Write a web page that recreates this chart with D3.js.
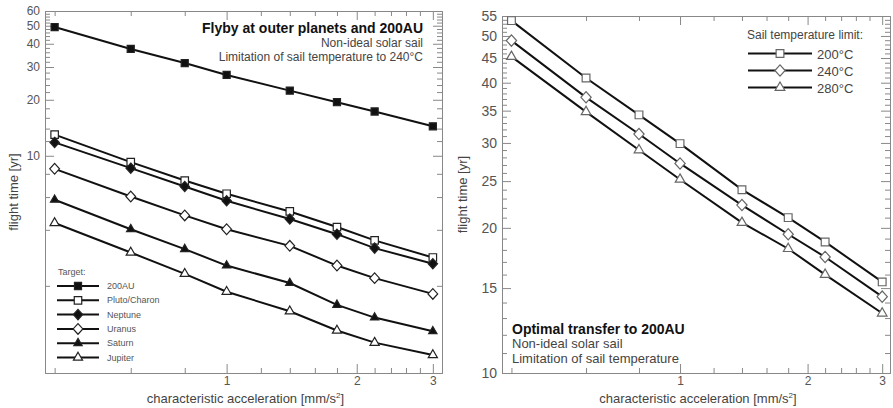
<!DOCTYPE html>
<html>
<head>
<meta charset="utf-8">
<script src="https://cdn.jsdelivr.net/npm/d3@7"></script>
<style>
	body { margin: 0; background: #fff; }
	svg { display: block; font-family: "Liberation Sans", Arial, sans-serif; }
	.axis .domain { stroke: #888; }
	.axis line { stroke: #888; }
	.axis text { fill: #555; font-family: "Liberation Sans", Arial, sans-serif; }
</style>
</head>
<body>
<div id="chart"></div>
<script>
// x values shared by both panels [mm/s^2]
const accel = [0.4, 0.6, 0.8, 1.0, 1.4, 1.8, 2.2, 3.0];

// left panel: flyby times [yr]
const targets = ["200AU", "Pluto/Charon", "Neptune", "Uranus", "Saturn", "Jupiter"];
const t200AU = [49.2, 37.5, 31.5, 27.2, 22.4, 19.4, 17.3, 14.4];
const tPluto = [13.0, 9.25, 7.36, 6.25, 5.02, 4.14, 3.51, 2.84];
const tNeptune = [11.8, 8.58, 6.84, 5.73, 4.57, 3.79, 3.19, 2.63];
const tUranus = [8.51, 6.04, 4.78, 4.03, 3.28, 2.57, 2.2, 1.81];
const tSaturn = [5.8, 4.03, 3.15, 2.57, 2.07, 1.58, 1.35, 1.14];
const tJupiter = [4.35, 3.02, 2.32, 1.86, 1.46, 1.15, 0.99, 0.85];

// right panel: transfer time to 200AU [yr]
const sailTemps = ["200°C", "240°C", "280°C"];
const t200C = [53.8, 40.9, 34.3, 29.9, 24.0, 21.0, 18.7, 15.45];
const t240C = [48.9, 37.3, 31.3, 27.2, 22.3, 19.4, 17.4, 14.4];
const t280C = [45.3, 34.8, 29.0, 25.2, 20.5, 18.1, 16.0, 13.3];

// ticks
const xLabels = [1, 2, 3];
const xMinor = [0.4, 0.6, 0.8, 1.2, 1.4, 1.6, 1.8, 2.2, 2.4, 2.6, 2.8];
const leftYLabels = [10, 20, 30, 40, 50, 60];
const leftYMinor = d3.range(2, 60, 2).filter((v) => v % 10 !== 0);
const rightYLabels = [10, 15, 20, 25, 30, 35, 40, 45, 50, 55];
const rightYMinor = d3.range(11, 55).filter((v) => v % 5 !== 0);

const W = 893, H = 408;
const svg = d3.select("#chart").append("svg").attr("width", W).attr("height", H);

// rotated square, slightly taller than wide
const symbolRhomb = {
	draw(ctx, size) {
		const r = Math.sqrt(size / 2.2);
		ctx.moveTo(0, -r * 1.1);
		ctx.lineTo(r, 0);
		ctx.lineTo(0, r * 1.1);
		ctx.lineTo(-r, 0);
		ctx.closePath();
	},
};

// draws frame with inward ticks on all four sides
function drawFrame(x, y, yLabels, yMinor, opt) {
	const [x0, x1] = x.range();
	const [y0, y1] = y.range(); // y0 bottom
	const g = svg.append("g");

	const ax = (gen, tx, ty, vals, size, labels, fs, pad) => {
		const a = gen.tickValues(vals).tickSizeInner(size).tickSizeOuter(0).tickPadding(pad || 5);
		a.tickFormat(labels ? (d) => d : () => "");
		g.append("g")
			.attr("class", "axis")
			.attr("transform", `translate(${tx},${ty})`)
			.call(a)
			.selectAll("text")
			.style("font-size", fs + "px");
	};

	// bottom / top
	ax(d3.axisBottom(x), 0, y0, xLabels, -9, true, 12, 3);
	ax(d3.axisBottom(x), 0, y0, xMinor, -5, false, 10);
	ax(d3.axisTop(x), 0, y1, xLabels, -9, false, 10);
	ax(d3.axisTop(x), 0, y1, xMinor, -5, false, 10);
	// left / right
	ax(d3.axisLeft(y), x0, 0, yLabels, -9, true, opt.yfs);
	ax(d3.axisLeft(y), x0, 0, yMinor, -5, false, 10);
	ax(d3.axisRight(y), x1, 0, yLabels, -9, false, 10);
	ax(d3.axisRight(y), x1, 0, yMinor, -5, false, 10);

	// axis titles
	g.append("text")
		.attr("x", (x0 + x1) / 2 + 2)
		.attr("y", 403)
		.attr("text-anchor", "middle")
		.attr("fill", "#444")
		.style("font-size", "13px")
		.text("characteristic acceleration [mm/s")
		.append("tspan")
		.attr("dy", -5)
		.style("font-size", "8px")
		.text("2")
		.clone(true)
		.attr("dy", 5)
		.style("font-size", "13px")
		.text("]");

	g.append("text")
		.attr("transform", `translate(${opt.ylabX},${(y0 + y1) / 2}) rotate(-90)`)
		.attr("text-anchor", "middle")
		.attr("fill", "#444")
		.style("font-size", "13px")
		.text("flight time [yr]");
	return g;
}

function drawSeries(x, y, vals, sym, filled, stroke, size) {
	const line = d3.line().x((d, i) => x(accel[i])).y((d) => y(d));
	svg.append("path")
		.datum(vals)
		.attr("d", line)
		.attr("fill", "none")
		.attr("stroke", "#111")
		.attr("stroke-width", 2);
	svg.append("g")
		.selectAll("path")
		.data(vals)
		.join("path")
		.attr("transform", (d, i) => `translate(${x(accel[i])},${y(d)})`)
		.attr("d", d3.symbol(sym, size))
		.attr("fill", filled ? "#111" : "#fff")
		.attr("stroke", stroke)
		.attr("stroke-width", 1.2);
}

// ---------------- left panel ----------------
const xL = d3.scaleLog().domain([0.38, 3.15]).range([45, 442]);
const yL = d3.scaleLog().domain([0.68, 60]).range([373, 11]);
drawFrame(xL, yL, leftYLabels, leftYMinor, { yfs: 12, ylabX: 18 });

const leftSeries = [t200AU, tPluto, tNeptune, tUranus, tSaturn, tJupiter];
const leftSyms = [d3.symbolSquare, d3.symbolSquare, symbolRhomb, symbolRhomb, d3.symbolTriangle, d3.symbolTriangle];
const leftFilled = [true, false, true, false, true, false];
const leftSize = [50, 56, 48, 52, 30, 36];
leftSeries.forEach((s, i) => drawSeries(xL, yL, s, leftSyms[i], leftFilled[i], "#222", leftSize[i]));

svg.append("text")
	.attr("x", 423).attr("y", 33)
	.attr("text-anchor", "end")
	.attr("fill", "#111")
	.style("font-size", "14px").style("font-weight", "bold")
	.text("Flyby at outer planets and 200AU");
svg.append("text")
	.attr("x", 423).attr("y", 47)
	.attr("text-anchor", "end")
	.attr("fill", "#444")
	.style("font-size", "12px")
	.text("Non-ideal solar sail");
svg.append("text")
	.attr("x", 423).attr("y", 61)
	.attr("text-anchor", "end")
	.attr("fill", "#444")
	.style("font-size", "12px")
	.text("Limitation of sail temperature to 240°C");

// left legend
const legL = svg.append("g");
legL.append("text")
	.attr("x", 58).attr("y", 275)
	.attr("fill", "#555")
	.style("font-size", "9px")
	.text("Target:");
targets.forEach((t, i) => {
	const yy = 286 + i * 14.3;
	legL.append("line")
		.attr("x1", 57).attr("x2", 99).attr("y1", yy).attr("y2", yy)
		.attr("stroke", "#111").attr("stroke-width", 2);
	legL.append("path")
		.attr("transform", `translate(78,${yy})`)
		.attr("d", d3.symbol(leftSyms[i], leftSize[i]))
		.attr("fill", leftFilled[i] ? "#111" : "#fff")
		.attr("stroke", "#222").attr("stroke-width", 1.2);
	legL.append("text")
		.attr("x", 107).attr("y", yy + 3)
		.attr("fill", "#555")
		.style("font-size", "9px")
		.text(t);
});

// ---------------- right panel ----------------
const xR = d3.scaleLog().domain([0.38, 3.13]).range([502, 890]);
const yR = d3.scaleLog().domain([10, 55]).range([373, 16]);
drawFrame(xR, yR, rightYLabels, rightYMinor, { yfs: 14, ylabX: 467 });

const rightSeries = [t200C, t240C, t280C];
const rightSyms = [d3.symbolSquare, symbolRhomb, d3.symbolTriangle];
const rightSize = [60, 58, 40];
rightSeries.forEach((s, i) => drawSeries(xR, yR, s, rightSyms[i], false, "#666", rightSize[i]));

const legR = svg.append("g");
legR.append("text")
	.attr("x", 747).attr("y", 39)
	.attr("fill", "#444")
	.style("font-size", "12px")
	.text("Sail temperature limit:");
sailTemps.forEach((t, i) => {
	const yy = 53.5 + i * 17;
	legR.append("line")
		.attr("x1", 748).attr("x2", 812).attr("y1", yy).attr("y2", yy)
		.attr("stroke", "#111").attr("stroke-width", 2);
	legR.append("path")
		.attr("transform", `translate(780,${yy})`)
		.attr("d", d3.symbol(rightSyms[i], rightSize[i]))
		.attr("fill", "#fff")
		.attr("stroke", "#666").attr("stroke-width", 1.2);
	legR.append("text")
		.attr("x", 817).attr("y", yy + 5)
		.attr("fill", "#444")
		.style("font-size", "13px")
		.text(t);
});

svg.append("text")
	.attr("x", 512).attr("y", 334)
	.attr("fill", "#111")
	.style("font-size", "14px").style("font-weight", "bold")
	.text("Optimal transfer to 200AU");
svg.append("text")
	.attr("x", 512).attr("y", 348)
	.attr("fill", "#444")
	.style("font-size", "13px")
	.text("Non-ideal solar sail");
svg.append("text")
	.attr("x", 512).attr("y", 363)
	.attr("fill", "#444")
	.style("font-size", "13px")
	.text("Limitation of sail temperature");
</script>
</body>
</html>
